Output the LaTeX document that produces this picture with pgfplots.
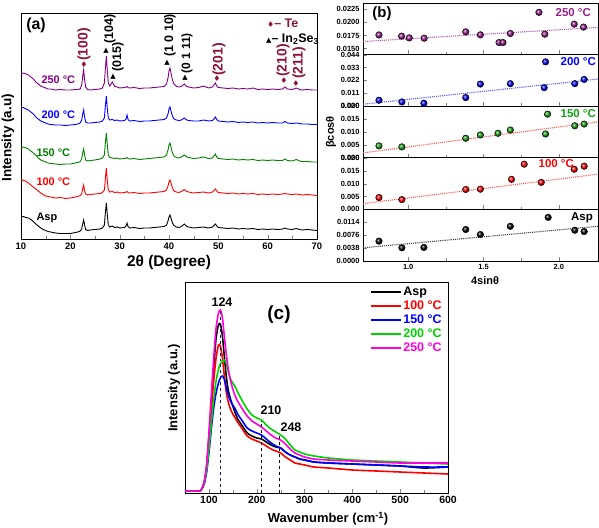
\documentclass[border=0pt]{standalone}
\usepackage{fontspec}
\setmainfont{Liberation Sans}
\newfontfamily\sym{DejaVu Sans}
\usepackage{pgfplots}
\pgfplotsset{compat=1.18}
\usepackage{pgfplotstable}

\definecolor{cmaroon}{RGB}{140,20,60}
\definecolor{apurple}{RGB}{128,0,128}
\definecolor{ablue}{RGB}{0,0,255}
\definecolor{agreen}{RGB}{0,128,0}
\definecolor{ared}{RGB}{255,0,0}
\definecolor{bpurple}{RGB}{150,30,140}
\definecolor{bgreen}{RGB}{20,160,20}
\definecolor{cgreen}{RGB}{0,210,0}
\definecolor{cpink}{RGB}{255,0,220}
\definecolor{cnavy}{RGB}{20,20,120}

\newcommand\fs[1]{\bfseries\fontsize{#1}{#1}\selectfont}
\newcommand\dia{{\sym\fontsize{8}{8}\selectfont ♦}}
\newcommand\tri{{\sym\fontsize{7}{7}\selectfont ▲}}

\pgfplotstableread{
x asp a100 a150 a200 a250
10.0 22 58 91 131 165
10.5 22.5 59 92 131.5 166
11.0 21.5 57.5 91 130 165
11.5 21 56 90 129 164
12.0 19.5 54 88 127 162
12.5 17.5 52 86 125 160
13.0 15 50 84 122 157
13.5 13 48 81 120 155
14.0 11 46 79 118 153
14.5 9.5 44.5 78 117 152
15.0 8.5 43 77 116 151
15.5 7.5 42.5 76 115 150
16.0 7 42 75.5 114.5 150
17.0 6 41 75 114 149
18.0 5.5 41.5 74.5 114 149.5
19.0 5.5 40.5 75 113.5 149
20.0 5.5 41 75 114 149
21.0 6.5 42 76 114.5 149.5
21.5 7 42.5 76.5 115 149.5
22.0 8 43.5 77.5 116 150
22.3 10 45 80 119 154
22.5 15 50 86 125 162
22.7 19 54 90 129 169
22.9 14 48 84 122 159
23.1 9.5 45 79 117 152
23.5 8.5 44 78 116 149.5
24.0 9 44.5 78.5 116 149
25.0 9.5 45 79 116.5 149.5
26.0 10 45.5 80 117 150
26.5 11 46.5 81 118 151
26.9 14 49 84 121 156
27.1 26 60 96 133 170
27.3 36 71 106 143 183
27.5 24 58 94 130 168
27.7 14 49 84 121 156
28.0 12 47 81.5 119 153
28.5 13 47.5 81 119.5 157
29.0 11.5 46.5 80.5 118.5 152.5
29.5 12 47 81 119 152
30.0 11 46 80 118 151
31.0 11.5 46.5 80.5 118.5 151.5
31.3 13 47 81 120 152
31.5 16 47.5 81.5 124 152.5
31.7 12.5 46.5 80.5 119.5 151.5
32.0 11 46 80 118 151
33.0 11.5 46.5 80.5 118.5 151.5
34.0 10.5 45.5 79.5 117.5 150.5
35.0 11 46 80 118 151
36.0 11 46 80.5 118 151
37.0 11.5 46.5 81 118.5 151.5
38.0 12 47 81.5 119 152
39.0 12.5 47.5 82 119.5 152.5
39.5 14 49 84 121 155
39.8 18 53 89 125 161
40.0 22 57 94 130 168
40.2 24 59 96 132 171
40.4 21 56 92 128 166
40.7 16 51 86 123 159
41.0 13.5 48 83 120 155
41.5 12 47 81.5 119 152.5
42.0 11.5 46.5 81 118.5 152
42.5 12.5 47.5 82 119 152.5
43.1 15 49.5 84 121 155
43.6 12.5 47.5 82 119 152.5
44.0 12 47 81.5 118.5 152
45.0 11 46 80.5 118 151
46.0 11.5 46.5 81 118 151.5
47.0 12 47 82 119 153
48.0 11 46 80.5 118 151
48.8 12 47 81 118.5 152
49.1 13.5 48.5 83 120 154
49.4 15 50 85 122 156
49.7 13 48 82 119.5 153
50.0 11.5 46.5 80.5 118 151.5
51.0 11 46 80 117.5 151
52.0 10.5 45.5 79.5 117 150.5
53.0 11 46 80 117.5 151
54.0 10 45 79 116.5 150
55.0 10.5 45.5 79.5 117 150.5
56.0 10 45 79 116.5 150
57.0 10.5 45.5 79.5 117 151
58.0 9.5 44.5 78.5 116 149.5
59.0 10 45 79 116.5 150
60.0 9.5 44.5 78.5 116 149.5
61.0 10 45 79 116.5 150
62.0 9.5 44.5 78.5 116 149.5
63.0 10 45 78.5 116 150
63.5 11 45.5 80 117.5 152
64.0 10 45 78.5 116 150
65.0 9.5 44.5 78 115.5 149.5
65.8 10.5 45 79.5 116 151
66.5 9.5 44.5 78 115.5 149.5
67.0 9 44 77.5 115 149
68.0 9.5 44.5 77.5 115 149.5
69.0 9 44 77 114.5 149
70.0 8.5 43.5 77 114.5 149
}\xrd

\pgfplotstableread{
x asp a100 a150 a200 a250
50 2 2 2 2 2
80 2 2 2 2 2
85 4 4 4 4 4
90 10 10 9 10 11
95 25 24 20 22 28
100 55 50 40 44 60
105 90 82 64 70 98
110 125 112 85 94 135
115 155 135 100 112 165
120 168 148 110 124 180
124 169 147 115 129 183
128 158 136 117 132 176
132 138 118 114 133 158
136 118 102 106 130 140
140 104 92 99 122 125
145 94 84 92 114 113
150 87 79 88 110 104
155 80 75 84 106 97
160 74 71 79 101 92
170 67 64 72 92 84
180 60 57 65 84 77
190 57 54 62 78 72
200 55 52 60 75 69
210 54 50 58 73 66
220 51 47 54 68 62
230 48 44 50 64 58
240 46 42 47 61 55
250 45 40 45 58 53
260 41 36 41 54 49
270 38 33 38 48 44
280 36 30 36 43 40
290 34 29 34 41 38
300 33 28 33 39 36
320 31 26 31 37 34
350 30 25 30 35 33
400 29 23 29 33 32
450 28 22 28 32 31
500 27 21 27 31 30
550 25 20 26 30 30
600 26 19 26 29 30
}\raman

\pgfplotsset{
  bpanel/.style={scale only axis, width=235bp, height=51.6bp, anchor=north west,
    xmin=0.7, xmax=2.26, xtick={1,1.5,2}, minor x tick num=1, xticklabels={},
    xtick pos=bottom, ytick pos=left, scaled y ticks=false,
    /pgf/number format/assume math mode=true,
    yticklabel style={/pgf/number format/.cd, fixed, fixed zerofill},
    tick label style={font=\fs{7.5}},
    axis line style={line width=0.8bp}, clip=false},
  fitline/.style={densely dotted, line width=1.1bp},
  balls/.style={only marks, mark=ball, mark size=3.3bp, mark options={ball color=#1}},
}

\begin{document}
\begin{tikzpicture}
\useasboundingbox (0bp,0bp) rectangle (599bp,-528bp);

% ---------------- (a) ----------------
\begin{axis}[scale only axis, width=296bp, height=226bp, at={(21bp,-13bp)}, anchor=north west,
  xmin=10, xmax=70, ymin=0, ymax=226, xtick={10,20,...,70}, minor x tick num=1,
  ytick=\empty, xtick pos=bottom,
  /pgf/number format/assume math mode=true,
  tick label style={font=\fs{9.5}}, axis line style={line width=0.9bp}]
\addplot[black, line width=0.9bp] table[x=x,y=asp]{\xrd};
\addplot[ared, line width=0.9bp] table[x=x,y=a100]{\xrd};
\addplot[agreen, line width=0.9bp] table[x=x,y=a150]{\xrd};
\addplot[ablue, line width=0.9bp] table[x=x,y=a200]{\xrd};
\addplot[apurple, line width=0.9bp] table[x=x,y=a250]{\xrd};
\end{axis}
\node[font=\fs{16}] at (36bp,-25bp) {(a)};
\node[font=\fs{11}, text=apurple, anchor=west] at (38bp,-80bp) {250 °C};
\node[font=\fs{11}, text=ablue, anchor=west] at (38bp,-115bp) {200 °C};
\node[font=\fs{11}, text=agreen, anchor=west] at (33bp,-153bp) {150 °C};
\node[font=\fs{11}, text=ared, anchor=west] at (33bp,-182bp) {100 °C};
\node[font=\fs{11}, text=black, anchor=west] at (33bp,-218bp) {Asp};
% peak labels
\node[text=cmaroon] at (84bp,-65bp) {\dia};
\node[font=\fs{14}, text=cmaroon, rotate=90, anchor=west, inner sep=0pt] at (84bp,-61bp) {(100)};
\node at (106bp,-51bp) {\tri};
\node[font=\fs{12.5}, rotate=90, anchor=west, inner sep=0pt] at (110bp,-44bp) {(104)};
\node at (113bp,-77bp) {\tri};
\node[font=\fs{12.5}, rotate=90, anchor=west, inner sep=0pt] at (118bp,-72bp) {(015)};
\node at (167bp,-63bp) {\tri};
\node[font=\fs{12.5}, rotate=90, anchor=west, inner sep=0pt] at (170bp,-57bp) {(1 0 10)};
\node at (185bp,-78bp) {\tri};
\node[font=\fs{12}, rotate=90, anchor=west, inner sep=0pt] at (187bp,-74bp) {(0 1 11)};
\node[text=cmaroon] at (217bp,-79bp) {\dia};
\node[font=\fs{14}, text=cmaroon, rotate=90, anchor=west, inner sep=0pt] at (219bp,-76bp) {(201)};
\node[text=cmaroon] at (284bp,-81bp) {\dia};
\node[font=\fs{14}, text=cmaroon, rotate=90, anchor=west, inner sep=0pt] at (283bp,-77bp) {(210)};
\node[text=cmaroon] at (296bp,-84bp) {\dia};
\node[font=\fs{14}, text=cmaroon, rotate=90, anchor=west, inner sep=0pt] at (299bp,-79bp) {(211)};
\node[font=\fs{12.5}, text=cmaroon, anchor=west, inner sep=0pt] at (267bp,-23bp) {\dia– Te};
\node[font=\fs{12.5}, anchor=west, inner sep=0pt] at (266bp,-39bp) {\tri– In\textsubscript{2}Se\textsubscript{3}};
\node[font=\fs{15.5}] at (169bp,-263bp) {2θ (Degree)};
\node[font=\fs{13.5}, rotate=90] at (8bp,-138bp) {Intensity (a.u)};

% ---------------- (b) ----------------
\begin{axis}[bpanel, at={(363bp,-3bp)}, ymin=0.01385, ymax=0.0237,
  ytick={0.015,0.0175,0.02,0.0225}, yticklabel style={/pgf/number format/precision=4}]
\addplot[fitline, bpurple!75] coordinates {(0.7,0.01635) (2.26,0.01904)};
\addplot[balls=bpurple] coordinates {(0.806,0.0176) (0.956,0.01737) (1.007,0.01704) (1.106,0.01698) (1.382,0.01819) (1.479,0.01762) (1.603,0.01615) (1.629,0.01615) (1.678,0.01788) (1.868,0.02192) (1.907,0.01775) (2.102,0.01967) (2.164,0.0191)};
\end{axis}
\begin{axis}[bpanel, at={(363bp,-54.6bp)}, ymin=0, ymax=0.044,
  ytick={0,0.011,0.022,0.033,0.044}, yticklabel style={/pgf/number format/precision=3}]
\addplot[fitline, ablue!65] coordinates {(0.7,0.0017) (2.26,0.0231)};
\addplot[balls=ablue] coordinates {(0.806,0.00508) (0.958,0.00364) (1.104,0.00254) (1.382,0.00736) (1.479,0.01887) (1.678,0.01921) (1.903,0.01582) (2.106,0.01921) (2.168,0.02285) (1.912,0.03782)};
\end{axis}
\begin{axis}[bpanel, at={(363bp,-106.2bp)}, ymin=0, ymax=0.02,
  ytick={0,0.005,0.01,0.015,0.02}, yticklabel style={/pgf/number format/precision=3}]
\addplot[fitline, ared!65] coordinates {(0.7,0.0019) (2.26,0.01396)};
\addplot[balls=bgreen] coordinates {(0.806,0.00462) (0.958,0.00423) (1.382,0.00758) (1.479,0.00885) (1.596,0.0095) (1.678,0.01077) (1.912,0.00923) (1.925,0.01692) (2.106,0.01242) (2.168,0.01308)};
\end{axis}
\begin{axis}[bpanel, at={(363bp,-157.8bp)}, ymin=0, ymax=0.02,
  ytick={0,0.005,0.01,0.015,0.02}, yticklabel style={/pgf/number format/precision=3}]
\addplot[fitline, ared!65] coordinates {(0.7,0.00224) (2.26,0.01365)};
\addplot[balls=ared] coordinates {(0.806,0.00459) (0.958,0.0038) (1.382,0.00773) (1.479,0.00784) (1.686,0.01165) (1.770,0.01753) (1.883,0.01047) (2.102,0.01557) (2.168,0.01675)};
\end{axis}
\begin{axis}[bpanel, at={(363bp,-209.4bp)}, ymin=0, ymax=0.0152,
  ytick={0,0.0038,0.0076,0.0114}, yticklabel style={/pgf/number format/precision=4},
  xticklabels={1.0,1.5,2.0}]
\addplot[fitline, black!75] coordinates {(0.7,0.00389) (2.26,0.01023)};
\addplot[balls=black] coordinates {(0.806,0.00585) (0.958,0.00389) (1.104,0.004) (1.382,0.00927) (1.479,0.0078) (1.678,0.01023) (1.929,0.01286) (2.106,0.00906) (2.168,0.00868)};
\end{axis}
\node[font=\fs{15}] at (382bp,-14bp) {(b)};
\node[font=\fs{11.5}, text=bpurple, anchor=east, inner sep=0pt] at (591bp,-13bp) {250 °C};
\node[font=\fs{11.5}, text=ablue, anchor=east, inner sep=0pt] at (596bp,-62bp) {200 °C};
\node[font=\fs{11.5}, text=bgreen, anchor=east, inner sep=0pt] at (596bp,-114bp) {150 °C};
\node[font=\fs{11.5}, text=ared, anchor=east, inner sep=0pt] at (574bp,-164bp) {100 °C};
\node[font=\fs{11.5}, anchor=east, inner sep=0pt] at (593bp,-218bp) {Asp};
\node[font=\fs{11}, rotate=90] at (331bp,-132bp) {βcosθ};
\node[font=\fs{11}] at (485bp,-281bp) {4sinθ};

% ---------------- (c) ----------------
\begin{axis}[scale only axis, width=263bp, height=211bp, at={(185bp,-282bp)}, anchor=north west,
  xmin=50, xmax=600, ymin=0, ymax=211, xtick={100,200,...,600}, minor x tick num=1,
  ytick=\empty, xtick pos=bottom,
  /pgf/number format/assume math mode=true,
  tick label style={font=\fs{10.5}}, axis line style={line width=1bp},
  legend style={draw=none, fill=none, at={(0.703,0.985)}, anchor=north west,
    font=\fs{12.5}, row sep=1.2bp, inner sep=0pt, nodes={inner sep=1.3bp}},
  legend cell align=left,
  legend image code/.code={\draw[#1, line width=2bp] (0bp,0bp) -- (30bp,0bp);}]
\addplot[black, line width=1.6bp, smooth, tension=0.4] table[x=x,y=asp]{\raman};
\addlegendentry{Asp}
\addplot[ared, line width=1.6bp, smooth, tension=0.4] table[x=x,y=a100]{\raman};
\addlegendentry{\textcolor{ared}{100 °C}}
\addplot[ablue, line width=1.6bp, smooth, tension=0.4] table[x=x,y=a150]{\raman};
\addlegendentry{\textcolor{ablue}{150 °C}}
\addplot[cgreen, line width=1.6bp, smooth, tension=0.4] table[x=x,y=a200]{\raman};
\addlegendentry{\textcolor{cgreen}{200 °C}}
\addplot[cpink, line width=1.6bp, smooth, tension=0.4] table[x=x,y=a250]{\raman};
\addlegendentry{\textcolor{cpink}{250 °C}}
\addplot[cnavy, dashed, line width=1bp, forget plot] coordinates {(124,0) (124,183)};
\addplot[black, dashed, line width=1bp, forget plot] coordinates {(210,0) (210,72)};
\addplot[black, dashed, line width=1bp, forget plot] coordinates {(248,0) (248,58)};
\end{axis}
\node[font=\fs{12.5}] at (222bp,-302bp) {124};
\node[font=\fs{19}] at (279bp,-315bp) {(c)};
\node[font=\fs{12.5}] at (271bp,-410bp) {210};
\node[font=\fs{12.5}] at (291bp,-427bp) {248};
\node[font=\fs{13}, rotate=90] at (174bp,-388bp) {Intensity (a.u.)};
\node[font=\fs{13}] at (328bp,-519bp) {Wavenumber (cm\textsuperscript{-1})};
\end{tikzpicture}
\end{document}
